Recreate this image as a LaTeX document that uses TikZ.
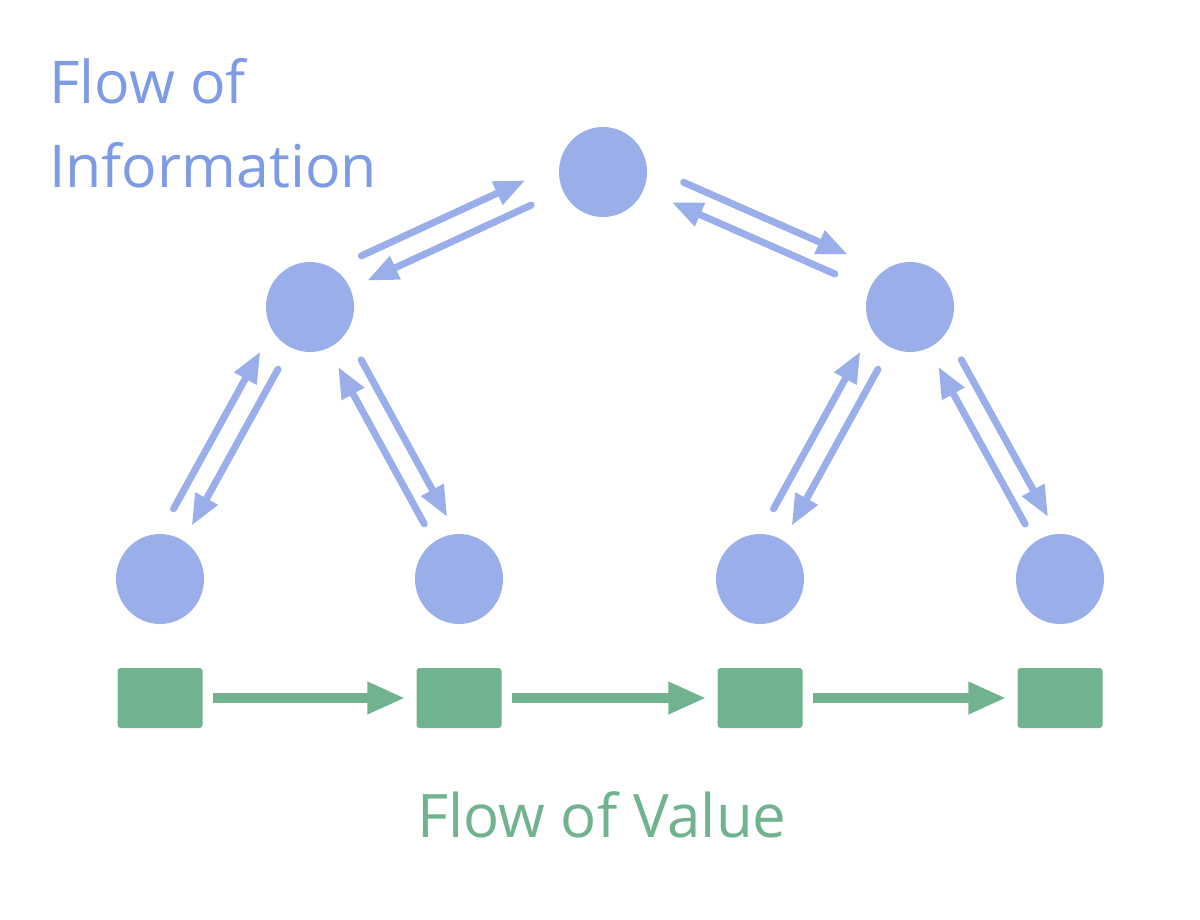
\documentclass[tikz,border=0pt]{standalone}
\usepackage{fontspec}
\setmainfont{Open Sans}
\usetikzlibrary{arrows.meta,calc,shapes.geometric}

\definecolor{infoblue}{HTML}{9AAFEA}
\definecolor{infotext}{HTML}{7E9BE6}
\definecolor{valgreen}{HTML}{72B38F}

\tikzset{
  agent/.style={ellipse, fill=infoblue, minimum width=88pt, minimum height=90pt, inner sep=0pt},
  good/.style={rectangle, fill=valgreen, rounded corners=3pt, minimum width=85pt, minimum height=60pt, inner sep=0pt},
  info/.style={infoblue, line width=7pt, line cap=round, -{Triangle[length=31pt,width=24pt]}},
  value/.style={valgreen, line width=10pt, -{Triangle[length=38pt,width=30pt]}, shorten <=10.5pt, shorten >=11pt}
}

\begin{document}
\begin{tikzpicture}[x=1pt, y=-1pt]

\useasboundingbox (0,0) rectangle (1200,920);

% agents
\node [agent] (top) at (603,172) {};
\node [agent] (ml)  at (310,307) {};
\node [agent] (mr)  at (910,307) {};
\node [agent] (b1)  at (160,579) {};
\node [agent] (b2)  at (459,579) {};
\node [agent] (b3)  at (760,579) {};
\node [agent] (b4)  at (1060,579) {};

% goods
\node [good] (v1) at (160,698) {};
\node [good] (v2) at (459,698) {};
\node [good] (v3) at (760,698) {};
\node [good] (v4) at (1060,698) {};

% information, up and down the tree
\draw [info, shorten <=68pt, shorten >=74pt] ($(ml)!25pt!90:(top)$) -- ($(top)!25pt!-90:(ml)$);
\draw [info, shorten <=79pt, shorten >=63pt] (top.center) -- (ml.center);

\draw [info, shorten <=78pt, shorten >=78pt] ($(top)!23pt!90:(mr)$) -- ($(mr)!23pt!-90:(top)$);
\draw [info, shorten <=82pt, shorten >=75pt] (mr.center) -- (top.center);

\foreach \m/\l/\r in {ml/b1/b2, mr/b3/b4} {
  \draw [info, shorten <=68pt, shorten >=63pt] ($(\l)!22pt!90:(\m)$) -- ($(\m)!22pt!-90:(\l)$);
  \draw [info, shorten <=70pt, shorten >=62pt] ($(\m)!2pt!90:(\l)$) -- ($(\l)!2pt!-90:(\m)$);
  \draw [info, shorten <=71pt, shorten >=60pt] ($(\m)!19.5pt!90:(\r)$) -- ($(\r)!19.5pt!-90:(\m)$);
  \draw [info, shorten <=65pt, shorten >=66pt] ($(\r)!4pt!90:(\m)$) -- ($(\m)!4pt!-90:(\r)$);
}

% value, left to right
\draw [value] (v1) -- (v2);
\draw [value] (v2) -- (v3);
\draw [value] (v3) -- (v4);

% labels
\node [anchor=north west, inner sep=0pt, align=left, text=infotext, font=\fontsize{59}{84}\selectfont] (infolabel) at (49,58) {Flow of\\Information};
\node [anchor=base, inner sep=0pt, text=valgreen, font=\fontsize{60}{72}\selectfont] (valuelabel) at (602,837) {Flow of Value};

\end{tikzpicture}
\end{document}
